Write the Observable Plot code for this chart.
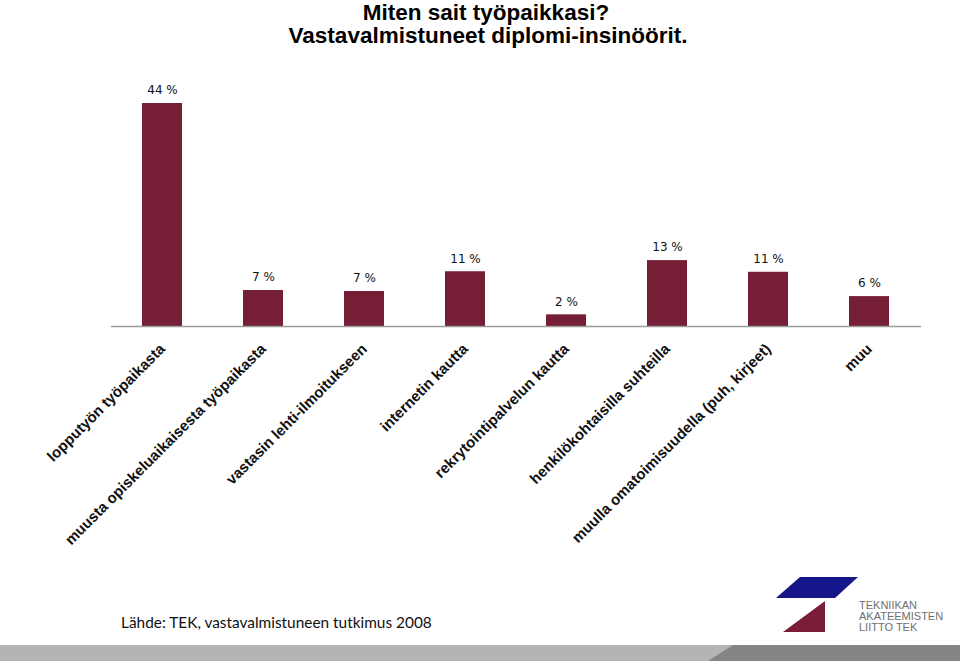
<!DOCTYPE html>
<html>
<head>
<meta charset="utf-8">
<script src="https://cdn.jsdelivr.net/npm/d3@7"></script>
<script src="https://cdn.jsdelivr.net/npm/@observablehq/plot@0.6"></script>
<style>
  html, body { margin: 0; padding: 0; background: #fff; }
  #wrap { position: relative; width: 960px; height: 664px; overflow: hidden; background: #fff; }
  #chart { position: absolute; left: 0; top: 0; }
  #deco { position: absolute; left: 0; top: 0; }
</style>
</head>
<body>
<div id="wrap">
  <div id="chart"></div>
  <svg id="deco" width="960" height="664">
    <g font-family="Liberation Sans, Arial, sans-serif" font-weight="bold" font-size="22.5" fill="#000" text-anchor="middle">
      <text x="486" y="20">Miten sait työpaikkasi?</text>
      <text x="488" y="43">Vastavalmistuneet diplomi-insinöörit.</text>
    </g>
    <text x="121" y="628" font-family="Lato, 'Open Sans', sans-serif" font-size="15.4" fill="#111">Lähde: TEK, vastavalmistuneen tutkimus 2008</text>
    <rect x="0" y="645" width="960" height="16" fill="#b4b4b4"></rect>
    <polygon points="733,645 960,645 960,661 708,661" fill="#858585"></polygon>
    <g transform="translate(760,570)">
      <polygon points="40,7 98,7 75,28 16,28" fill="#15168a"></polygon>
      <polygon points="65,31 65,62 23,62" fill="#7a1d38"></polygon>
      <g font-family="Liberation Sans, Arial, sans-serif" font-size="11" fill="#707070">
        <text x="99" y="39">TEKNIIKAN</text>
        <text x="99" y="50">AKATEEMISTEN</text>
        <text x="99" y="61">LIITTO TEK</text>
      </g>
    </g>
  </svg>
</div>
<script>
const categories = [
  "lopputyön työpaikasta",
  "muusta opiskeluaikaisesta työpaikasta",
  "vastasin lehti-ilmoitukseen",
  "internetin kautta",
  "rekrytointipalvelun kautta",
  "henkilökohtaisilla suhteilla",
  "muulla omatoimisuudella (puh, kirjeet)",
  "muu"
];
const values = [44, 7.1, 6.9, 10.8, 2.3, 13.0, 10.7, 5.9];
const valueLabels = ["44 %", "7 %", "7 %", "11 %", "2 %", "13 %", "11 %", "6 %"];

const data = categories.map((c, i) => ({category: c, value: values[i], label: valueLabels[i]}));

const chart = Plot.plot({
  width: 960,
  height: 560,
  marginLeft: 111,
  marginRight: 39,
  marginTop: 103,
  marginBottom: 234,
  style: {background: "transparent"},
  x: {domain: categories, paddingInner: 0.6, paddingOuter: 0.3, axis: null},
  y: {domain: [0, 44], axis: null},
  marks: [
    Plot.barY(data, {x: "category", y: "value", fill: "#751e35"}),
    Plot.ruleY([0], {stroke: "#9a9a9a", strokeWidth: 1.5}),
    Plot.text(data, {x: "category", y: "value", text: "label", dy: -13,
      fontFamily: "DejaVu Sans", fontSize: 12, fill: "#111"}),
    Plot.axisX({tickRotate: -45, tickSize: 0, tickPadding: 20, dx: 0,
      fontFamily: "Liberation Sans, Arial, sans-serif", fontSize: 15, fontWeight: "bold",
      fill: "#111", label: null})
  ]
});
document.getElementById("chart").appendChild(chart);
</script>
</body>
</html>
